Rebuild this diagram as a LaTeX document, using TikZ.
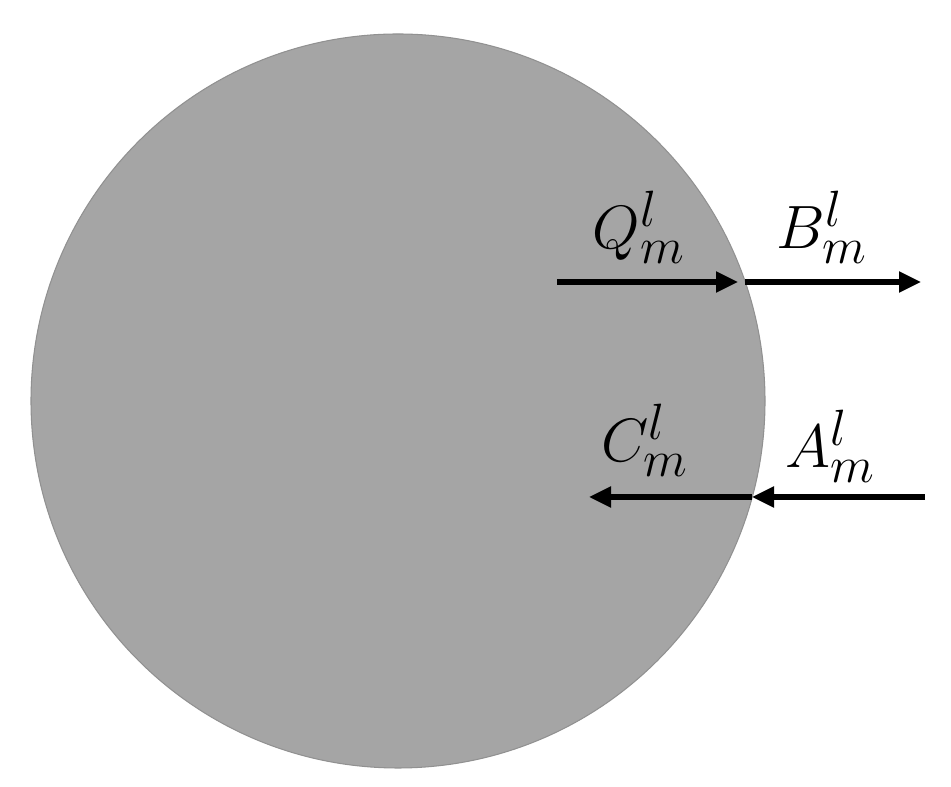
\documentclass[tikz,border=0pt]{standalone}
\usepackage{amsmath}
\usetikzlibrary{arrows.meta}

\definecolor{diskgray}{RGB}{165,165,165}
\definecolor{rimgray}{RGB}{145,145,145}

\begin{document}
\begin{tikzpicture}[
    flux/.style={line width=2.9pt, -{Triangle[length=0.44cm,width=0.4cm]}},
    lbl/.style={font=\Huge, scale=1.4, inner sep=0pt}
  ]
  \useasboundingbox (0,0) rectangle (19.02,15.74);
  % Disk
  \node[circle, fill=diskgray, draw=rimgray, line width=0.6pt, inner sep=0pt, outer sep=0pt,
        minimum size=14.68cm] (disk) at (7.96,7.72) {};
  % End points (on the rim where needed)
  \coordinate (qs) at (11.14,10.1);
  \coordinate (bs) at (14.9,10.1);
  \coordinate (be) at (18.42,10.1);
  \coordinate (as) at (18.5,5.8);
  \coordinate (ae) at (15.04,5.8);
  \coordinate (ce) at (11.78,5.8);
  % Arrows
  \draw[flux, shorten >=0.14cm] (qs) -- (bs);
  \draw[flux] (bs) -- (be);
  \draw[flux] (as) -- (ae);
  \draw[flux] (ae) -- (ce);
  % Labels
  \node[lbl] (qlab) at (12.78,11.2) {$Q_m^l$};
  \node[lbl] (blab) at (16.44,11.2) {$B_m^l$};
  \node[lbl] (clab) at (12.9,6.94) {$C_m^l$};
  \node[lbl] (alab) at (16.6,6.82) {$A_m^l$};
\end{tikzpicture}
\end{document}
